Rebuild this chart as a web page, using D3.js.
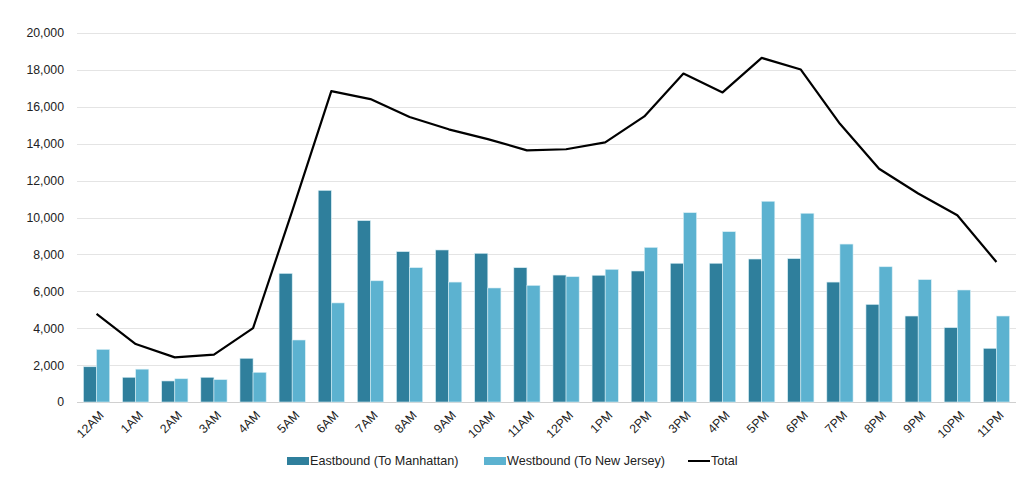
<!DOCTYPE html>
<html>
<head>
<meta charset="utf-8">
<script src="https://cdn.jsdelivr.net/npm/d3@7"></script>
<style>
  body { margin: 0; background: #fff; }
  text { font-family: "Liberation Sans", Arial, sans-serif; }
</style>
</head>
<body>
<div id="chart"></div>
<script>
const width = 1024;
const height = 480;

const hours = ["12AM", "1AM", "2AM", "3AM", "4AM", "5AM", "6AM", "7AM", "8AM", "9AM", "10AM", "11AM",
  "12PM", "1PM", "2PM", "3PM", "4PM", "5PM", "6PM", "7PM", "8PM", "9PM", "10PM", "11PM"];

const eastbound = [1910, 1340, 1140, 1340, 2370, 6970, 11470, 9830, 8150, 8240, 8060, 7280,
  6880, 6870, 7100, 7520, 7520, 7750, 7770, 6500, 5290, 4660, 4030, 2910];

const westbound = [2850, 1780, 1260, 1210, 1610, 3360, 5370, 6570, 7280, 6500, 6180, 6320,
  6790, 7190, 8380, 10260, 9230, 10880, 10230, 8560, 7330, 6630, 6070, 4660];

const total = [4770, 3140, 2420, 2570, 4000, 10350, 16850, 16420, 15450, 14780, 14250, 13640,
  13700, 14070, 15480, 17800, 16780, 18650, 18020, 15080, 12640, 11300, 10120, 7590];

const yTicks = [0, 2000, 4000, 6000, 8000, 10000, 12000, 14000, 16000, 18000, 20000];

const series = [
  { name: "Eastbound (To Manhattan)", values: eastbound, color: "#2f7f9c" },
  { name: "Westbound (To New Jersey)", values: westbound, color: "#5cb2d0" }
];

const plot = { left: 77, right: 1016, top: 33, bottom: 402 };

const svg = d3.select("#chart").append("svg")
  .attr("width", width)
  .attr("height", height);

const x = d3.scaleBand()
  .domain(hours)
  .range([plot.left, plot.right])
  .paddingInner(0.33)
  .paddingOuter(0.165);

const xSub = d3.scaleBand()
  .domain(series.map((s) => s.name))
  .range([0, x.bandwidth()]);

const y = d3.scaleLinear()
  .domain([0, 20000])
  .range([plot.bottom, plot.top]);

// gridlines
svg.append("g")
  .selectAll("line")
  .data(yTicks)
  .enter()
  .append("line")
  .attr("x1", plot.left)
  .attr("x2", plot.right)
  .attr("y1", (d) => Math.round(y(d)) + 0.5)
  .attr("y2", (d) => Math.round(y(d)) + 0.5)
  .attr("stroke", (d) => (d === 0 ? "#d0d0d0" : "#e4e4e4"))
  .attr("stroke-width", 1);

// y axis labels
const yAxis = d3.axisLeft(y)
  .tickValues(yTicks)
  .tickFormat(d3.format(","))
  .tickSize(0)
  .tickPadding(0);

svg.append("g")
  .attr("transform", `translate(64,0)`)
  .call(yAxis)
  .call((g) => g.select(".domain").remove())
  .call((g) => g.selectAll("text")
    .attr("font-size", 12.3)
    .attr("fill", "#222")
    .style("font-family", "'Liberation Sans', Arial, sans-serif"));

// bars
const groups = svg.append("g")
  .selectAll("g")
  .data(series)
  .enter()
  .append("g")
  .attr("fill", (d) => d.color);

groups.selectAll("rect")
  .data((s) => s.values.map((v, i) => ({ name: s.name, hour: hours[i], value: v })))
  .enter()
  .append("rect")
  .attr("x", (d) => x(d.hour) + xSub(d.name))
  .attr("y", (d) => y(d.value))
  .attr("width", xSub.bandwidth())
  .attr("height", (d) => y(0) - y(d.value))
  .attr("stroke", "#d8eef5")
  .attr("stroke-width", 0.6);

// total line
const line = d3.line()
  .x((d, i) => x(hours[i]) + x.bandwidth() / 2)
  .y((d) => y(d));

svg.append("path")
  .datum(total)
  .attr("fill", "none")
  .attr("stroke", "#000")
  .attr("stroke-width", 2.2)
  .attr("stroke-linejoin", "round")
  .attr("d", line);

// x axis labels
const xAxis = d3.axisBottom(x).tickSize(0).tickPadding(0);

svg.append("g")
  .attr("transform", `translate(0,${plot.bottom})`)
  .call(xAxis)
  .call((g) => g.select(".domain").remove())
  .call((g) => g.selectAll("text")
    .attr("font-size", 12.3)
    .attr("fill", "#222")
    .attr("text-anchor", "end")
    .attr("dy", null)
    .attr("y", 0)
    .attr("transform", "translate(8,14) rotate(-45)")
    .style("font-family", "'Liberation Sans', Arial, sans-serif"));

// legend
const legendItems = [
  { name: series[0].name, color: series[0].color, type: "rect", x: 287 },
  { name: series[1].name, color: series[1].color, type: "rect", x: 484 },
  { name: "Total", color: "#000", type: "line", x: 688 }
];

const legend = svg.append("g")
  .selectAll("g")
  .data(legendItems)
  .enter()
  .append("g")
  .attr("transform", (d) => `translate(${d.x},461)`);

legend.filter((d) => d.type === "rect")
  .append("rect")
  .attr("x", 0)
  .attr("y", -4)
  .attr("width", 22)
  .attr("height", 8)
  .attr("fill", (d) => d.color);

legend.filter((d) => d.type === "line")
  .append("line")
  .attr("x1", 0)
  .attr("x2", 22)
  .attr("y1", 0)
  .attr("y2", 0)
  .attr("stroke", "#000")
  .attr("stroke-width", 2);

legend.append("text")
  .attr("x", 23)
  .attr("y", 0)
  .attr("dy", "0.35em")
  .attr("font-size", 12.6)
  .attr("fill", "#222")
  .text((d) => d.name);
</script>
</body>
</html>
